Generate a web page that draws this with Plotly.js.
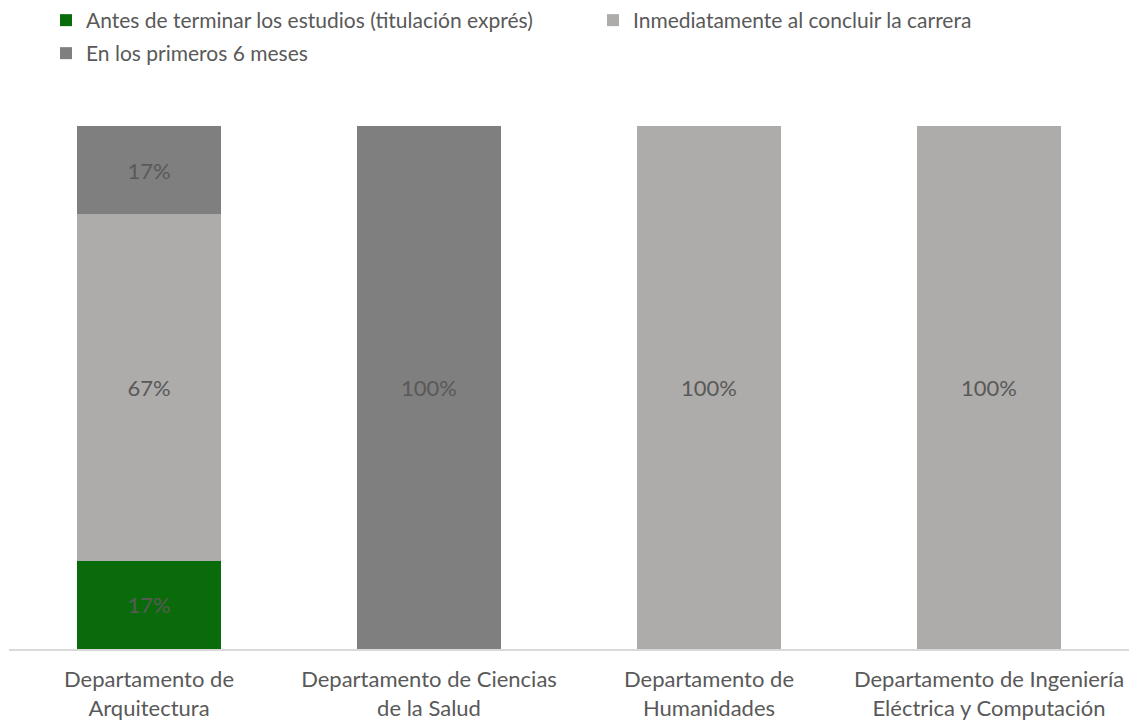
<!DOCTYPE html>
<html>
<head>
<meta charset="utf-8">
<script src="https://cdn.plot.ly/plotly-3.0.1.min.js"></script>
<style>html,body{margin:0;padding:0;background:#fff;}#chart{width:1133px;height:723px;}</style>
</head>
<body>
<div id="chart"></div>
<script>
const categories = [
  "Departamento de<br>Arquitectura",
  "Departamento de Ciencias<br>de la Salud",
  "Departamento de<br>Humanidades",
  "Departamento de Ingeniería<br>Eléctrica y Computación"
];
const seriesNames = [
  "Antes de terminar los estudios (titulación exprés)",
  "Inmediatamente al concluir la carrera",
  "En los primeros 6 meses"
];
const antesValues = [17, null, null, null];
const inmediatoValues = [67, null, 100, 100];
const seisMesesValues = [17, 100, null, null];
const colors = ["#0a6b0a", "#adacaa", "#7f7f7f"];

const FONT = "Lato, 'Open Sans', sans-serif";
const TXT = "#595959";
const FS = 22;
const LFS = 21;

function mk(name, vals, color, legend) {
  return {
    type: "bar",
    name: name,
    x: categories,
    y: vals,
    text: vals.map(v => v == null ? "" : v + "%"),
    texttemplate: "%{text}",
    textposition: "inside",
    insidetextanchor: "middle",
    textfont: {family: FONT, size: FS, color: TXT},
    constraintext: "none",
    marker: {color: color, line: {width: 0}},
    hoverinfo: "skip",
    legend: legend
  };
}

const data = [
  mk(seriesNames[0], antesValues, colors[0], "legend"),
  mk(seriesNames[1], inmediatoValues, colors[1], "legend2"),
  mk(seriesNames[2], seisMesesValues, colors[2], "legend3")
];

function leg(px, py) {
  return {
    orientation: "h", xref: "container", yref: "container",
    x: px/1133, y: 1 - py/723, xanchor: "left", yanchor: "top",
    font: {family: FONT, size: LFS, color: TXT},
    bgcolor: "rgba(0,0,0,0)", itemclick: false, itemdoubleclick: false
  };
}

const layout = {
  width: 1133, height: 723,
  margin: {l: 9, r: 4, t: 126, b: 74},
  paper_bgcolor: "#fff", plot_bgcolor: "#fff",
  barmode: "stack",
  barnorm: "percent",
  bargap: 0.486,
  font: {family: FONT, size: FS, color: TXT},
  showlegend: true,
  legend: leg(46, 0),
  legend2: leg(593, 0),
  legend3: leg(46, 33),
  xaxis: {
    type: "category",
    showline: true, linecolor: "#d9d9d9", linewidth: 2,
    ticks: "", showgrid: false, zeroline: false,
    tickfont: {family: FONT, size: FS, color: TXT},
    ticklabelstandoff: 10,
    automargin: false
  },
  yaxis: {
    range: [0, 100], showticklabels: false, showgrid: false,
    zeroline: false, showline: false, ticks: "", fixedrange: true
  }
};

Plotly.newPlot("chart", data, layout, {displayModeBar: false, staticPlot: true});
</script>
</body>
</html>
